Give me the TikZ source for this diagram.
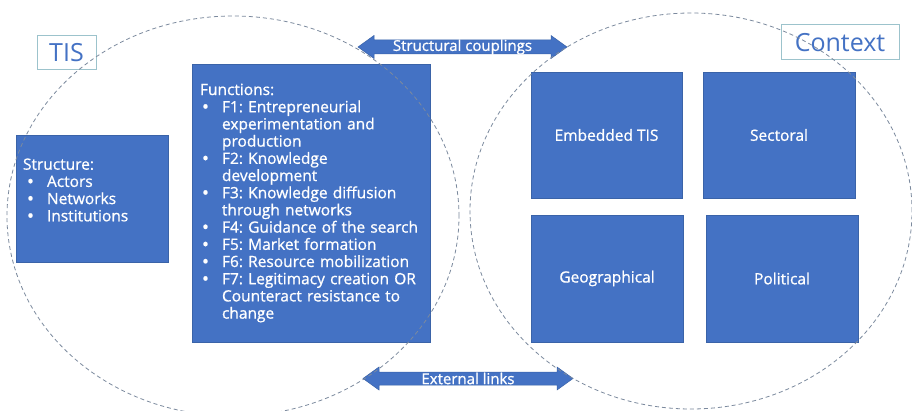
\documentclass[tikz,border=0pt]{standalone}
\usepackage{fontspec}
\usepackage{graphicx}
\setmainfont{Open Sans}
\newfontfamily\heavyfam{Open Sans}[RawFeature={embolden=0.9}]
\frenchspacing
\definecolor{boxblue}{HTML}{4472C4}
\definecolor{boxedge}{HTML}{3A63A8}
\definecolor{labeledge}{HTML}{9CC3CC}
\definecolor{ringgray}{HTML}{7C8A9E}
\tikzset{
  bluebox/.style={draw=boxedge, line width=0.8pt, fill=boxblue, text=white, rectangle, inner sep=0pt},
  labelbox/.style={draw=labeledge, line width=1pt, fill=white, text=boxblue, rectangle, inner sep=0pt, font=\fontsize{25}{28}\selectfont},
  ring/.style={draw=ringgray, line width=0.8pt, dash pattern=on 4pt off 3pt},
  arrowbody/.style={fill=boxblue, draw=boxedge, line width=0.5pt},
  arrowtext/.style={text=white, inner sep=0pt, font=\heavyfam\fontsize{15}{17}\selectfont},
  boxfont/.style={font=\heavyfam\fontsize{15.5}{17.2}\selectfont\frenchspacing}
}
\newcommand{\bigbul}{\smash{\raisebox{-1pt}{\scalebox{1.2}{•}}}}
\newcommand{\bl}[1]{\mbox{\hspace*{2pt}\makebox[20pt][l]{\bigbul}#1}}
\newcommand{\cl}[1]{\mbox{\hspace*{22pt}#1}}
\newcommand{\sbl}[1]{\mbox{\hspace*{4pt}\makebox[20pt][l]{\bigbul}#1}}
\begin{document}
\begin{tikzpicture}[x=1pt, y=-1pt]
\path[use as bounding box, fill=white] (0,0) rectangle (912,411);

% label boxes
\node[labelbox, minimum width=59pt, minimum height=34pt] (tis) at (66.5,53) {TIS};
\node[labelbox, minimum width=118pt, minimum height=35pt] (context) at (840,42.5) {Context};

% structure box
\node[bluebox, boxfont, minimum width=152pt, minimum height=127pt, text width=138pt, align=left] (struct) at (92,198.5)
 {\mbox{Structure:}\\ \sbl{Actors}\\ \sbl{Networks}\\ \sbl{Institutions}\\ \mbox{}};

% functions box
\node[bluebox, boxfont, minimum width=238pt, minimum height=278pt, text width=222pt, align=left] (func) at (311,203)
 {\mbox{Functions:}\\
  \bl{F1: Entrepreneurial}\\
  \cl{experimentation and}\\
  \cl{production}\\
  \bl{F2: Knowledge}\\
  \cl{development}\\
  \bl{F3: Knowledge diffusion}\\
  \cl{through networks}\\
  \bl{F4: Guidance of the search}\\
  \bl{F5: Market formation}\\
  \bl{F6: Resource mobilization}\\
  \bl{F7: Legitimacy creation OR}\\
  \cl{Counteract resistance to}\\
  \cl{change}};

% context boxes
\node[bluebox, boxfont, minimum width=151pt, minimum height=126pt] (emb) at (606.5,135) {Embedded TIS};
\node[bluebox, boxfont, minimum width=152pt, minimum height=126pt] (sect) at (779,135) {Sectoral};
\node[bluebox, boxfont, minimum width=152pt, minimum height=127pt] (geo) at (607,278.5) {Geographical};
\node[bluebox, boxfont, minimum width=152pt, minimum height=127pt] (pol) at (782,278.5) {Political};

% double arrows
\path[arrowbody] (358,47) -- (374,35.5) -- (374,40) -- (551,40) -- (551,35.5) -- (567,47)
  -- (551,58.5) -- (551,54) -- (374,54) -- (374,58.5) -- cycle;
\node[arrowtext] (sc) at (462.5,47) {Structural couplings};

\path[arrowbody] (363,378.5) -- (379,367) -- (379,372) -- (557,372) -- (557,367) -- (573,378.5)
  -- (557,390) -- (557,385) -- (379,385) -- (379,390) -- cycle;
\node[arrowtext] (el) at (468,378.5) {External links};

% dashed rings
\draw[ring] (233,216) ellipse [x radius=226pt, y radius=200pt];
\draw[ring] (691,211) ellipse [x radius=221pt, y radius=198pt];
\end{tikzpicture}
\end{document}
